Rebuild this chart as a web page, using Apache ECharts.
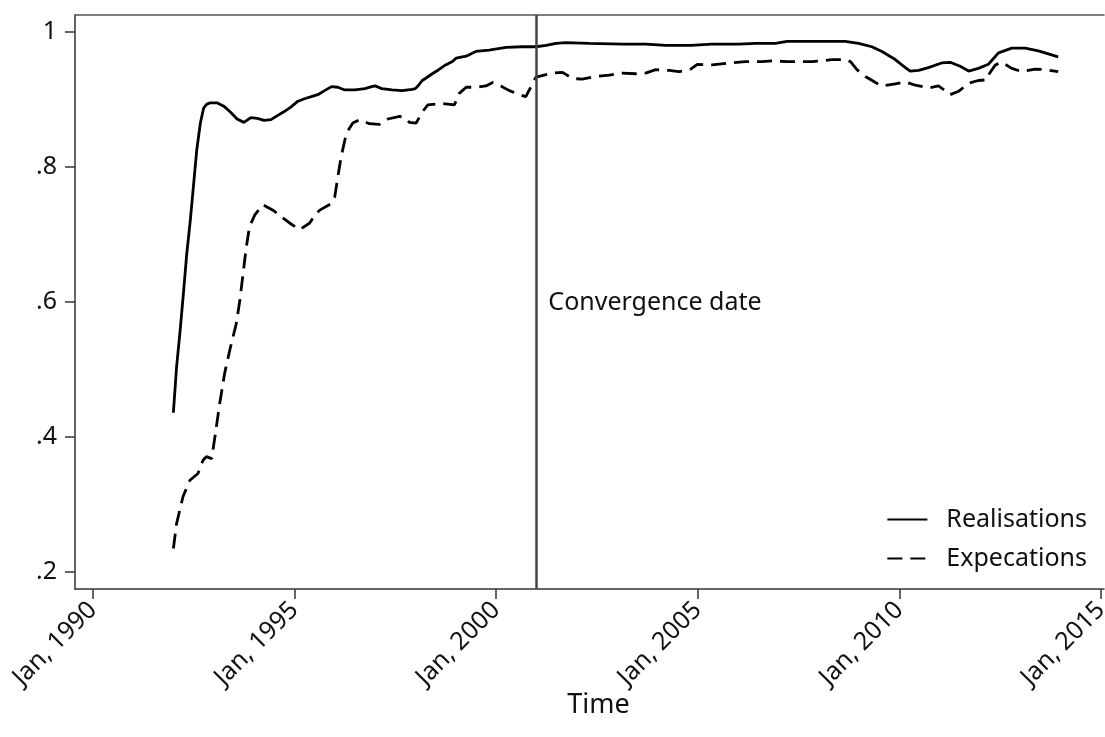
<!DOCTYPE html>
<html>
<head>
<meta charset="utf-8">
<script src="https://cdn.jsdelivr.net/npm/echarts@6/dist/echarts.min.js"></script>
<style>html,body{margin:0;padding:0;background:#fff;}#c{width:1105px;height:737px;}</style>
</head>
<body>
<div id="c"></div>
<script>
// [decimal year, value]
const realisations = [
[1992.00,0.436],[1992.08,0.504],[1992.17,0.559],[1992.25,0.613],[1992.33,0.670],[1992.42,0.721],
[1992.50,0.773],[1992.58,0.825],[1992.67,0.865],[1992.75,0.887],[1992.83,0.893],[1992.92,0.895],
[1993.08,0.895],[1993.25,0.890],[1993.42,0.881],[1993.58,0.871],[1993.75,0.866],[1993.92,0.873],
[1994.08,0.872],[1994.25,0.869],[1994.42,0.870],[1994.58,0.876],[1994.75,0.882],[1994.92,0.889],
[1995.08,0.897],[1995.25,0.901],[1995.42,0.904],[1995.58,0.907],[1995.75,0.913],[1995.92,0.919],
[1996.08,0.918],[1996.25,0.914],[1996.50,0.914],[1996.75,0.916],[1996.92,0.919],[1997.00,0.920],
[1997.17,0.916],[1997.42,0.914],[1997.67,0.913],[1997.92,0.915],[1998.00,0.916],[1998.08,0.921],
[1998.17,0.928],[1998.25,0.931],[1998.42,0.938],[1998.58,0.944],[1998.75,0.951],[1998.92,0.956],
[1999.01,0.961],[1999.26,0.964],[1999.50,0.971],[1999.83,0.973],[2000.25,0.977],[2000.66,0.978],
[2000.99,0.978],[2001.24,0.980],[2001.49,0.983],[2001.73,0.984],[2002.31,0.983],[2003.13,0.982],
[2003.71,0.982],[2004.21,0.980],[2004.83,0.980],[2005.35,0.982],[2006.02,0.982],[2006.44,0.983],
[2006.93,0.983],[2007.22,0.986],[2007.51,0.986],[2008.66,0.986],[2008.99,0.983],[2009.32,0.978],
[2009.57,0.971],[2009.90,0.959],[2010.11,0.949],[2010.27,0.942],[2010.48,0.943],[2010.72,0.947],
[2011.05,0.954],[2011.26,0.955],[2011.51,0.949],[2011.72,0.942],[2011.96,0.946],[2012.21,0.952],
[2012.46,0.969],[2012.79,0.976],[2013.12,0.976],[2013.45,0.972],[2013.94,0.963]
];
const expectations = [
[1992.00,0.235],[1992.08,0.272],[1992.24,0.312],[1992.41,0.336],[1992.61,0.346],[1992.74,0.366],
[1992.82,0.371],[1992.95,0.368],[1993.03,0.400],[1993.15,0.450],[1993.27,0.494],[1993.40,0.529],
[1993.56,0.568],[1993.65,0.603],[1993.73,0.643],[1993.81,0.682],[1993.89,0.712],[1994.02,0.729],
[1994.22,0.744],[1994.47,0.736],[1994.68,0.726],[1994.88,0.717],[1995.13,0.707],[1995.38,0.717],
[1995.54,0.731],[1995.63,0.736],[1995.92,0.746],[1996.00,0.755],[1996.08,0.786],[1996.16,0.815],
[1996.29,0.850],[1996.45,0.865],[1996.62,0.870],[1996.86,0.864],[1997.11,0.863],[1997.32,0.871],
[1997.61,0.875],[1997.77,0.872],[1997.85,0.866],[1998.02,0.865],[1998.18,0.882],[1998.31,0.892],
[1998.68,0.894],[1998.97,0.892],[1999.09,0.909],[1999.26,0.918],[1999.50,0.918],[1999.75,0.920],
[1999.92,0.925],[2000.12,0.920],[2000.33,0.913],[2000.58,0.907],[2000.74,0.904],[2000.91,0.924],
[2000.99,0.933],[2001.40,0.939],[2001.65,0.940],[2001.90,0.931],[2002.14,0.930],[2002.48,0.934],
[2002.81,0.936],[2003.13,0.939],[2003.47,0.938],[2003.71,0.939],[2003.96,0.944],[2004.29,0.943],
[2004.54,0.941],[2004.83,0.945],[2004.99,0.952],[2005.36,0.951],[2005.78,0.954],[2006.19,0.956],
[2006.60,0.956],[2006.85,0.957],[2007.22,0.956],[2007.84,0.956],[2008.08,0.957],[2008.33,0.959],
[2008.66,0.959],[2008.79,0.956],[2008.95,0.944],[2009.16,0.934],[2009.41,0.925],[2009.57,0.920],
[2009.90,0.923],[2010.15,0.926],[2010.40,0.921],[2010.72,0.917],[2010.97,0.920],[2011.14,0.913],
[2011.26,0.907],[2011.47,0.912],[2011.72,0.924],[2011.96,0.928],[2012.17,0.929],[2012.21,0.936],
[2012.38,0.951],[2012.54,0.955],[2012.79,0.946],[2013.04,0.941],[2013.37,0.945],[2013.61,0.944],
[2013.94,0.941]
];
const xTicks = [1990, 1995, 2000, 2005, 2010, 2015];
const yTicks = [0.2, 0.4, 0.6, 0.8, 1];
const convergenceYear = 2001.0;
const convergenceLabel = 'Convergence date';
const seriesNames = ['Realisations', 'Expecations'];

const FONT = 'Noto Sans';
const chart = echarts.init(document.getElementById('c'), null, {renderer: 'canvas'});
const axisColor = '#333';
const option = {
  backgroundColor: '#fff',
  animation: false,
  textStyle: {fontFamily: FONT, color: '#111'},
  grid: {left: 75, right: 1, top: 15, bottom: 148, outerBoundsMode: 'none', containLabel: false},
  legend: {
    show: true, orient: 'vertical', right: 13, top: 502,
    itemWidth: 40, itemHeight: 25, itemGap: 14,
    itemStyle: {opacity: 0, borderWidth: 0},
    textStyle: {fontFamily: FONT, fontSize: 25, color: '#111', padding: [0, 0, 0, 14]},
    data: seriesNames
  },
  xAxis: [{
    type: 'value', min: 1989.561, max: 2015.076,
    name: 'Time', nameLocation: 'middle', nameGap: 103, nameMoveOverlap: false,
    nameTextStyle: {fontFamily: FONT, fontSize: 27, color: '#111', padding: [0, 0, 0, 18]},
    axisLine: {show: true, lineStyle: {color: axisColor, width: 1.5}},
    axisTick: {show: true, length: 10, customValues: xTicks, lineStyle: {color: axisColor, width: 1.5}},
    axisLabel: {show: true, customValues: xTicks, rotate: 45, margin: 17,
      fontFamily: FONT, fontSize: 25, color: '#111',
      formatter: v => 'Jan, ' + Math.round(v)},
    splitLine: {show: false}
  }, {
    type: 'value', position: 'top', min: 1989.561, max: 2015.076,
    axisLine: {show: true, lineStyle: {color: '#555', width: 1.5}},
    axisTick: {show: false}, axisLabel: {show: false}, splitLine: {show: false}
  }],
  yAxis: {
    type: 'value', min: 0.175, max: 1.025,
    axisLine: {show: true, lineStyle: {color: axisColor, width: 1.5}},
    axisTick: {show: true, length: 10, customValues: yTicks, lineStyle: {color: axisColor, width: 1.5}},
    axisLabel: {show: true, customValues: yTicks, margin: 18,
      fontFamily: FONT, fontSize: 25, color: '#111',
      formatter: v => (Math.abs(v - 1) < 1e-9 ? '1' : String(+v.toFixed(1)).replace(/^0\./, '.'))},
    splitLine: {show: false}
  },
  series: [{
    name: seriesNames[0], type: 'line', data: realisations, showSymbol: false, symbol: 'none',
    lineStyle: {color: '#000', width: 2.8, type: 'solid'}, itemStyle: {color: '#000'},
    markLine: {
      silent: true, symbol: 'none', animation: false,
      lineStyle: {color: '#444', width: 2.5, type: 'solid'},
      label: {show: false},
      data: [{xAxis: convergenceYear}]
    }
  }, {
    name: seriesNames[1], type: 'line', data: expectations, showSymbol: false, symbol: 'none',
    lineStyle: {color: '#000', width: 2.8, type: [15, 8]}, itemStyle: {color: '#000'}
  }]
};
chart.setOption(option);
const p = chart.convertToPixel({xAxisIndex: 0, yAxisIndex: 0}, [convergenceYear, 0.6]);
chart.setOption({
  graphic: [{type: 'text', left: p[0] + 12, top: p[1] - 12,
    style: {text: convergenceLabel, fontFamily: FONT, fontSize: 25, fill: '#111'}}]
});
</script>
</body>
</html>
